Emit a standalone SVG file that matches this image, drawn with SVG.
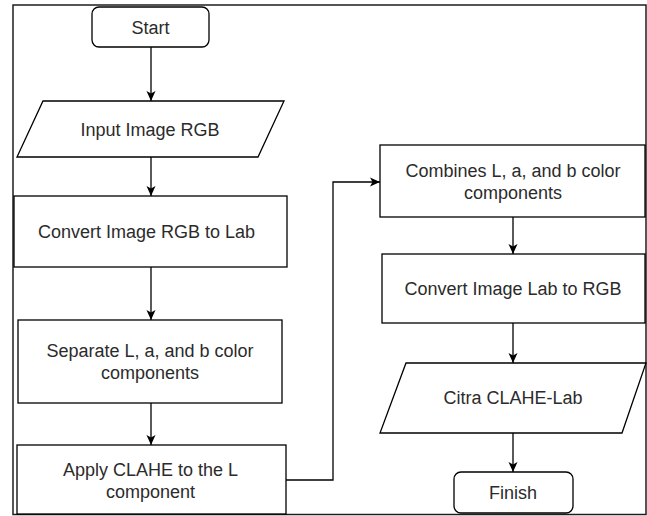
<svg xmlns="http://www.w3.org/2000/svg" width="647" height="516" viewBox="0 0 647 516">
  <defs>
    <style>
      .shape { fill: #ffffff; stroke: #000000; stroke-width: 1.3; }
      .label { font-family: "Liberation Sans", Arial, Helvetica, sans-serif; font-size: 18px; fill: #2b2b2b; text-anchor: middle; }
      .edge { fill: none; stroke: #000000; stroke-width: 1.3; }
    </style>
    <marker id="arrow" markerUnits="userSpaceOnUse" markerWidth="12" markerHeight="10" refX="10" refY="5" orient="auto">
      <path d="M0,0.5 L10,5 L0,9.5 L2.5,5 Z" fill="#000000"/>
    </marker>
  </defs>

  <rect width="647" height="516" fill="#ffffff"/>
  <!-- frame around the chart -->
  <rect x="13" y="5" width="633" height="509.5" fill="none" stroke="#1e1e1e" stroke-width="1.5"/>

  <g id="connectors">
    <path class="edge" d="M151,47 L151,101" marker-end="url(#arrow)"/>
    <path class="edge" d="M151,157 L151,196" marker-end="url(#arrow)"/>
    <path class="edge" d="M151,267 L151,320" marker-end="url(#arrow)"/>
    <path class="edge" d="M151,403 L151,445" marker-end="url(#arrow)"/>
    <path class="edge" d="M286,480 L333,480 L333,182 L380,182" marker-end="url(#arrow)"/>
    <path class="edge" d="M513,217 L513,254" marker-end="url(#arrow)"/>
    <path class="edge" d="M513,323 L513,363" marker-end="url(#arrow)"/>
    <path class="edge" d="M513,433 L513,472" marker-end="url(#arrow)"/>
  </g>

  <g id="start">
    <rect class="shape" x="92" y="7" width="117" height="40" rx="7"/>
    <text class="label" x="150.5" y="33.5">Start</text>
  </g>

  <g id="input-image">
    <polygon class="shape" points="43,101 284,101 258,157 17,157"/>
    <text class="label" x="150" y="135.5">Input Image RGB</text>
  </g>

  <g id="rgb-to-lab">
    <rect class="shape" x="14" y="196" width="273" height="71"/>
    <text class="label" x="146.5" y="238">Convert Image RGB to Lab</text>
  </g>

  <g id="separate">
    <rect class="shape" x="18" y="320" width="264" height="83"/>
    <text class="label" x="150" y="357">Separate L, a, and b color</text>
    <text class="label" x="150" y="379">components</text>
  </g>

  <g id="apply-clahe">
    <rect class="shape" x="17" y="445" width="269" height="69"/>
    <text class="label" x="150.5" y="476">Apply CLAHE to the L</text>
    <text class="label" x="150.5" y="498">component</text>
  </g>

  <g id="combine">
    <rect class="shape" x="380" y="145" width="265" height="72"/>
    <text class="label" x="513" y="177">Combines L, a, and b color</text>
    <text class="label" x="513" y="199">components</text>
  </g>

  <g id="lab-to-rgb">
    <rect class="shape" x="382" y="254" width="263" height="69"/>
    <text class="label" x="513" y="294.5">Convert Image Lab to RGB</text>
  </g>

  <g id="output-image">
    <polygon class="shape" points="406,363 646,363 622,433 380,433"/>
    <text class="label" x="513" y="404">Citra CLAHE-Lab</text>
  </g>

  <g id="finish">
    <rect class="shape" x="454" y="472" width="119" height="41" rx="7"/>
    <text class="label" x="513" y="499">Finish</text>
  </g>
</svg>
